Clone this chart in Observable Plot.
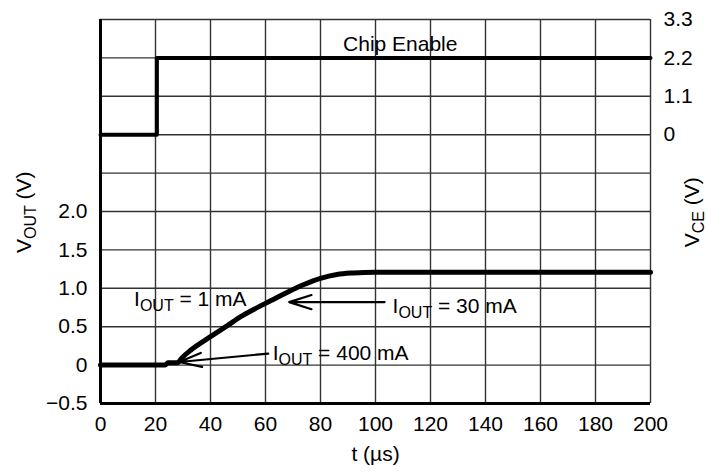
<!DOCTYPE html>
<html><head><meta charset="utf-8">
<script src="https://cdn.jsdelivr.net/npm/d3@7"></script>
<script src="https://cdn.jsdelivr.net/npm/@observablehq/plot@0.6"></script>
<style>
body{margin:0;background:#fff;}
svg{font-family:"Liberation Sans",Arial,Helvetica,sans-serif;}
</style></head><body><div id="chart"></div>
<script>
// Chip enable (V_CE, volts)
const tCE = [0, 20.5, 20.5, 200];
const vCE = [0, 0, 2.2, 2.2];
// Output voltage (V_OUT, volts)
const tOut = [0, 23.5, 24.5, 28, 29.5, 33, 40, 46, 51, 56, 62, 68, 74, 80, 86, 92, 100, 200];
const vOut = [0, 0, 0.03, 0.03, 0.09, 0.2, 0.37, 0.51, 0.63, 0.73, 0.84, 0.95, 1.05, 1.13, 1.18, 1.2, 1.21, 1.21];
// Axes
const xTicks = [0, 20, 40, 60, 80, 100, 120, 140, 160, 180, 200];
const yLeftTicks = [-0.5, 0, 0.5, 1.0, 1.5, 2.0];
const yLeftLabels = ["\u22120.5", "0", "0.5", "1.0", "1.5", "2.0"];
const yGrid = [-0.5, 0, 0.5, 1.0, 1.5, 2.0, 2.5, 3.0, 3.5, 4.0, 4.5];
const yRightTicks = [0, 1.1, 2.2, 3.3];
const yRightLabels = ["0", "1.1", "2.2", "3.3"];
// V_CE axis shares the frame: 0 V sits on the 3.0 grid line, 1.1 V per grid step
const ceOffset = 3.0, cePerStep = 1.1, stepV = 0.5;
const ceToLeft = v => ceOffset + v / cePerStep * stepV;

// Annotations (positions in t, V_OUT units)
const annText = ["I" + "OUT = 1 mA", "I" + "OUT = 30 mA", "I" + "OUT = 400 mA"];
const annT = [12.2, 106.2, 62.6];
const annV = [0.86, 0.76, 0.16];
const chipText = ["Chip Enable"];
const chipT = [109];
const chipV = [4.18];
// Arrows
const arrX1 = [103.3, 61.0];
const arrY1 = [0.82, 0.15];
const arrX2 = [68.6, 28.6];
const arrY2 = [0.82, 0.04];
// Axis titles
const xTitle = "t (\u00B5s)";
const yLeftTitle = "V" + "OUT (V)";
const yRightTitle = "V" + "CE (V)";

const ce = tCE.map((t, i) => ({t, v: ceToLeft(vCE[i])}));
const out = tOut.map((t, i) => ({t, v: vOut[i]}));
const ann = annText.map((s, i) => ({s, t: annT[i], v: annV[i]}));
const chip = chipText.map((s, i) => ({s, t: chipT[i], v: chipV[i]}));
const arrows = arrX1.map((x1, i) => ({x1, y1: arrY1[i], x2: arrX2[i], y2: arrY2[i]}));
const rightTicksLeft = yRightTicks.map(ceToLeft);

const lookup = (ticks, labels) => d => {
  const i = ticks.findIndex(v => Math.abs(v - d) < 1e-9);
  return i < 0 ? "" : labels[i];
};

const FS = 21;
const svg = Plot.plot({
  width: 707, height: 472,
  marginLeft: 100, marginRight: 57, marginTop: 19, marginBottom: 69,
  style: {fontSize: FS + "px", color: "#000", background: "#fff", fontFamily: '"Liberation Sans",Arial,sans-serif'},
  x: {domain: [0, 200]},
  y: {domain: [-0.5, 4.5]},
  marks: [
    Plot.ruleX(xTicks, {stroke: "#333", strokeWidth: 1.4}),
    Plot.ruleY(yGrid, {stroke: "#333", strokeWidth: 1.4}),
    Plot.ruleX([0], {stroke: "#000", strokeWidth: 3}),
    Plot.ruleY([-0.5], {stroke: "#000", strokeWidth: 3}),
    Plot.axisX({ticks: xTicks, tickSize: 0, tickPadding: 13, label: null, fontSize: FS}),
    Plot.axisY({anchor: "left", ticks: yLeftTicks, tickFormat: lookup(yLeftTicks, yLeftLabels), tickSize: 0, tickPadding: 13, label: null, fontSize: FS}),
    Plot.axisY({anchor: "right", ticks: rightTicksLeft, tickFormat: lookup(rightTicksLeft, yRightLabels), tickSize: 0, tickPadding: 13, label: null, fontSize: FS}),
    Plot.line(ce, {x: "t", y: "v", stroke: "#000", strokeWidth: 4}),
    Plot.line(out, {x: "t", y: "v", stroke: "#000", strokeWidth: 5, curve: "monotone-x"}),
    Plot.arrow(arrows, {x1: "x1", y1: "y1", x2: "x2", y2: "y2", stroke: "#000", strokeWidth: 2.2, headLength: 16, headAngle: 35}),
    Plot.text(chip, {x: "t", y: "v", text: "s", textAnchor: "middle", fontSize: FS, fill: "#000"}),
    Plot.text(ann, {x: "t", y: "v", text: "s", textAnchor: "start", fontSize: FS, fill: "#000"}),
    Plot.text([xTitle], {frameAnchor: "bottom", x: [100], dy: 57, text: d => d, textAnchor: "middle", fontSize: FS, fill: "#000"}),
    Plot.text([yLeftTitle], {frameAnchor: "left", y: [1.99], dx: -76, rotate: -90, textAnchor: "middle", text: d => d, fontSize: FS, fill: "#000"}),
    Plot.text([yRightTitle], {frameAnchor: "right", y: [1.99], dx: 42, rotate: -90, textAnchor: "middle", text: d => d, fontSize: FS, fill: "#000"})
  ]
});

// Subscripts (OUT, CE)
d3.select(svg).selectAll("text").each(function() {
  const s = this.textContent;
  const m = s.match(/^([IV])(OUT|CE)(.*)$/);
  if (!m) return;
  const sel = d3.select(this);
  sel.text(null);
  sel.append("tspan").text(m[1]);
  sel.append("tspan").attr("dy", "5").attr("font-size", "16px").text(m[2]);
  sel.append("tspan").attr("dy", "-5").text(m[3]);
});

document.getElementById("chart").appendChild(svg);
</script></body></html>
